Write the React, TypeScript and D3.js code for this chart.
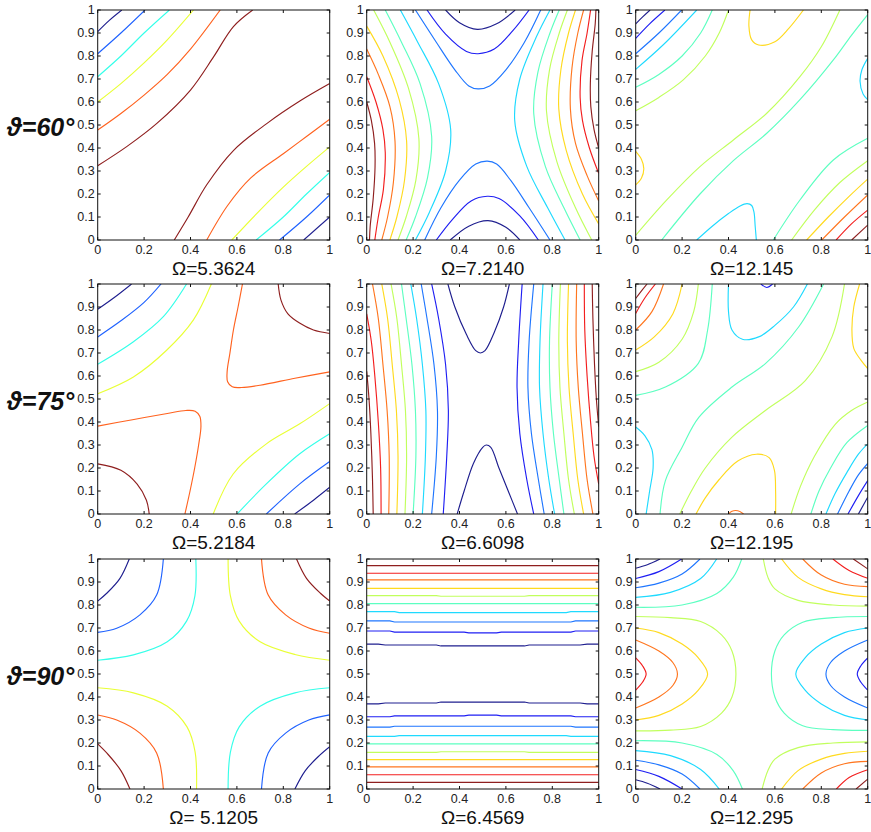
import React from "react";
import * as d3 from "d3";

type Pt = [number, number];
type Line = [number, Pt[]];

const rowLabels = ["ϑ=60°", "ϑ=75°", "ϑ=90°"];
const titles = ["Ω=5.3624", "Ω=7.2140", "Ω=12.145", "Ω=5.2184", "Ω=6.6098", "Ω=12.195", "Ω= 5.1205", "Ω=6.4569", "Ω=12.295"];
const levelCounts = [6, 10, 10, 6, 10, 10, 6, 10, 10];
const xTicks = [0, 0.2, 0.4, 0.6, 0.8, 1];
const yTicks = [0, 0.1, 0.2, 0.3, 0.4, 0.5, 0.6, 0.7, 0.8, 0.9, 1];

// contour lines: [level index, points in (x, y)]
const p1: Line[] = [
  [0, [[0, 0.906], [0.05, 0.955], [0.104, 1]]],
  [1, [[0, 0.81], [0.1, 0.9], [0.204, 1]]],
  [2, [[0, 0.71], [0.1, 0.8], [0.2, 0.9], [0.309, 1]]],
  [3, [[0, 0.6], [0.1, 0.68], [0.2, 0.77], [0.3, 0.87], [0.413, 1]]],
  [4, [[0, 0.478], [0.1, 0.55], [0.2, 0.63], [0.3, 0.72], [0.4, 0.83], [0.528, 1]]],
  [5, [[0, 0.323], [0.125, 0.406], [0.255, 0.507], [0.4, 0.652], [0.5, 0.797], [0.585, 0.928], [0.668, 1]]],
  [5, [[0.33, 0], [0.39, 0.1], [0.47, 0.24], [0.586, 0.39], [0.73, 0.507], [0.873, 0.605], [1, 0.68]]],
  [4, [[0.47, 0], [0.56, 0.15], [0.66, 0.27], [0.8, 0.375], [0.9, 0.45], [1, 0.525]]],
  [3, [[0.578, 0], [0.7, 0.13], [0.8, 0.23], [0.9, 0.32], [1, 0.405]]],
  [2, [[0.683, 0], [0.8, 0.1], [0.9, 0.2], [1, 0.294]]],
  [1, [[0.784, 0], [0.9, 0.1], [1, 0.196]]],
  [0, [[0.888, 0], [1, 0.1]]],
];

const p2: Line[] = [
  [0, [[0.34, 1], [0.4, 0.945], [0.477, 0.916], [0.56, 0.94], [0.64, 1]]],
  [1, [[0.26, 1], [0.34, 0.895], [0.43, 0.82], [0.48, 0.81], [0.55, 0.83], [0.63, 0.91], [0.7, 1]]],
  [2, [[0.21, 1], [0.3, 0.86], [0.38, 0.74], [0.44, 0.67], [0.48, 0.657], [0.53, 0.67], [0.6, 0.74], [0.68, 0.86], [0.75, 1]]],
  [0, [[0.36, 0], [0.44, 0.06], [0.523, 0.084], [0.6, 0.055], [0.66, 0]]],
  [1, [[0.3, 0], [0.37, 0.09], [0.45, 0.17], [0.52, 0.19], [0.57, 0.18], [0.66, 0.105], [0.74, 0]]],
  [2, [[0.25, 0], [0.32, 0.14], [0.4, 0.26], [0.47, 0.33], [0.52, 0.343], [0.56, 0.33], [0.62, 0.26], [0.7, 0.14], [0.79, 0]]],
  [9, [[0, 0.6], [0.02, 0.52], [0.034, 0.42], [0.036, 0.32], [0.028, 0.18], [0.015, 0.06], [0.012, 0]]],
  [9, [[1, 0.4], [0.98, 0.48], [0.966, 0.58], [0.964, 0.68], [0.972, 0.82], [0.985, 0.94], [0.988, 1]]],
  [8, [[0, 0.71], [0.04, 0.6], [0.07, 0.48], [0.08, 0.38], [0.072, 0.22], [0.05, 0.1], [0.035, 0]]],
  [8, [[1, 0.29], [0.96, 0.4], [0.93, 0.52], [0.92, 0.62], [0.928, 0.78], [0.95, 0.9], [0.965, 1]]],
  [7, [[0, 0.83], [0.05, 0.72], [0.1, 0.58], [0.122, 0.43], [0.115, 0.25], [0.09, 0.1], [0.065, 0]]],
  [7, [[1, 0.17], [0.95, 0.28], [0.9, 0.42], [0.878, 0.57], [0.885, 0.75], [0.91, 0.9], [0.935, 1]]],
  [6, [[0, 0.93], [0.07, 0.8], [0.14, 0.61], [0.172, 0.43], [0.163, 0.26], [0.13, 0.1], [0.1, 0]]],
  [6, [[1, 0.07], [0.93, 0.2], [0.86, 0.39], [0.828, 0.57], [0.837, 0.74], [0.87, 0.9], [0.9, 1]]],
  [5, [[0.03, 1], [0.1, 0.86], [0.18, 0.66], [0.225, 0.44], [0.212, 0.26], [0.17, 0.1], [0.135, 0]]],
  [5, [[0.97, 0], [0.9, 0.14], [0.82, 0.34], [0.775, 0.56], [0.788, 0.74], [0.83, 0.9], [0.865, 1]]],
  [4, [[0.08, 1], [0.15, 0.86], [0.23, 0.68], [0.28, 0.45], [0.262, 0.27], [0.21, 0.1], [0.17, 0]]],
  [4, [[0.92, 0], [0.85, 0.14], [0.77, 0.32], [0.72, 0.55], [0.738, 0.73], [0.79, 0.9], [0.83, 1]]],
  [3, [[0.145, 1], [0.22, 0.86], [0.31, 0.68], [0.362, 0.48], [0.34, 0.3], [0.27, 0.12], [0.21, 0]]],
  [3, [[0.855, 0], [0.78, 0.14], [0.69, 0.32], [0.638, 0.52], [0.66, 0.7], [0.73, 0.88], [0.79, 1]]],
];

const p3: Line[] = [
  [0, [[0, 0.94], [0.03, 0.97], [0.062, 1]]],
  [1, [[0, 0.877], [0.06, 0.94], [0.126, 1]]],
  [2, [[0, 0.81], [0.1, 0.9], [0.198, 1]]],
  [3, [[0, 0.742], [0.12, 0.85], [0.263, 1]]],
  [4, [[0, 0.664], [0.1, 0.72], [0.2, 0.8], [0.28, 0.9], [0.33, 1]]],
  [5, [[0, 0.562], [0.1, 0.62], [0.205, 0.696], [0.3, 0.8], [0.36, 0.9], [0.4, 1]]],
  [6, [[0.493, 1], [0.488, 0.93], [0.5, 0.87], [0.53, 0.848], [0.6, 0.862], [0.66, 0.92], [0.723, 1]]],
  [6, [[0, 0.385], [0.025, 0.35], [0.035, 0.31], [0.025, 0.27], [0, 0.24]]],
  [3, [[1, 0.79], [0.975, 0.74], [0.967, 0.69], [0.98, 0.635], [1, 0.61]]],
  [3, [[0.263, 0], [0.33, 0.06], [0.4, 0.115], [0.45, 0.148], [0.48, 0.158], [0.5, 0.15], [0.51, 0.12], [0.515, 0.06], [0.52, 0]]],
  [5, [[0, 0.02], [0.134, 0.174], [0.277, 0.319], [0.421, 0.435], [0.565, 0.551], [0.708, 0.71], [0.8, 0.84], [0.88, 1]]],
  [4, [[0.112, 0], [0.277, 0.2], [0.421, 0.345], [0.565, 0.464], [0.708, 0.61], [0.852, 0.783], [0.93, 0.89], [1, 0.98]]],
  [4, [[0.593, 0], [0.708, 0.174], [0.852, 0.348], [1, 0.442]]],
  [5, [[0.672, 0], [0.77, 0.13], [0.88, 0.25], [1, 0.345]]],
  [6, [[0.737, 0], [0.83, 0.1], [0.92, 0.19], [1, 0.265]]],
  [7, [[0.802, 0], [0.9, 0.1], [1, 0.196]]],
  [8, [[0.864, 0], [0.93, 0.07], [1, 0.13]]],
  [9, [[0.931, 0], [1, 0.065]]],
];

const p4: Line[] = [
  [0, [[0, 0.89], [0.07, 0.94], [0.146, 1]]],
  [1, [[0, 0.77], [0.1, 0.84], [0.2, 0.92], [0.273, 1]]],
  [2, [[0, 0.651], [0.154, 0.749], [0.283, 0.858], [0.383, 1]]],
  [3, [[0, 0.523], [0.154, 0.596], [0.297, 0.712], [0.412, 0.843], [0.49, 1]]],
  [4, [[0.624, 1], [0.605, 0.9], [0.585, 0.8], [0.57, 0.7], [0.558, 0.62], [0.56, 0.575], [0.58, 0.553], [0.62, 0.55], [0.7, 0.56], [0.85, 0.59], [1, 0.618]]],
  [5, [[0.778, 1], [0.79, 0.93], [0.82, 0.87], [0.87, 0.83], [0.93, 0.8], [1, 0.785]]],
  [4, [[0, 0.382], [0.15, 0.41], [0.3, 0.437], [0.38, 0.45], [0.42, 0.447], [0.44, 0.425], [0.445, 0.38], [0.435, 0.3], [0.418, 0.2], [0.398, 0.1], [0.376, 0]]],
  [5, [[0, 0.218], [0.1, 0.19], [0.17, 0.13], [0.21, 0.06], [0.222, 0]]],
  [3, [[0.498, 0], [0.584, 0.174], [0.727, 0.305], [0.871, 0.392], [1, 0.48]]],
  [2, [[0.601, 0], [0.727, 0.131], [0.871, 0.262], [1, 0.349]]],
  [1, [[0.727, 0], [0.871, 0.131], [1, 0.228]]],
  [0, [[0.849, 0], [0.93, 0.06], [1, 0.116]]],
];

const p5: Line[] = [
  [0, [[0.35, 1], [0.38, 0.9], [0.43, 0.78], [0.47, 0.71], [0.49, 0.7], [0.51, 0.71], [0.55, 0.79], [0.59, 0.9], [0.615, 1]]],
  [0, [[0.39, 0], [0.42, 0.1], [0.46, 0.22], [0.5, 0.29], [0.515, 0.3], [0.535, 0.29], [0.57, 0.2], [0.61, 0.1], [0.65, 0]]],
  [1, [[0.28, 1], [0.31, 0.85], [0.34, 0.65], [0.352, 0.45], [0.345, 0.25], [0.33, 0]]],
  [2, [[0.235, 1], [0.26, 0.85], [0.29, 0.65], [0.305, 0.45], [0.3, 0.25], [0.28, 0]]],
  [3, [[0.19, 1], [0.215, 0.85], [0.24, 0.65], [0.255, 0.45], [0.253, 0.25], [0.24, 0]]],
  [4, [[0.15, 1], [0.17, 0.85], [0.195, 0.65], [0.21, 0.45], [0.212, 0.25], [0.2, 0]]],
  [5, [[0.105, 1], [0.13, 0.85], [0.15, 0.65], [0.167, 0.45], [0.172, 0.25], [0.165, 0]]],
  [6, [[0.065, 1], [0.09, 0.85], [0.11, 0.65], [0.128, 0.45], [0.135, 0.25], [0.13, 0]]],
  [7, [[0.025, 1], [0.05, 0.85], [0.07, 0.65], [0.088, 0.45], [0.097, 0.25], [0.095, 0]]],
  [8, [[0, 0.87], [0.02, 0.75], [0.035, 0.6], [0.05, 0.4], [0.06, 0.2], [0.062, 0]]],
  [9, [[0, 0.62], [0.01, 0.5], [0.018, 0.35], [0.025, 0.15], [0.028, 0]]],
  [1, [[0.72, 0], [0.69, 0.15], [0.66, 0.35], [0.648, 0.55], [0.655, 0.75], [0.67, 1]]],
  [2, [[0.765, 0], [0.74, 0.15], [0.71, 0.35], [0.695, 0.55], [0.7, 0.75], [0.72, 1]]],
  [3, [[0.81, 0], [0.785, 0.15], [0.76, 0.35], [0.745, 0.55], [0.747, 0.75], [0.76, 1]]],
  [4, [[0.85, 0], [0.83, 0.15], [0.805, 0.35], [0.79, 0.55], [0.788, 0.75], [0.8, 1]]],
  [5, [[0.895, 0], [0.87, 0.15], [0.85, 0.35], [0.833, 0.55], [0.828, 0.75], [0.835, 1]]],
  [6, [[0.935, 0], [0.91, 0.15], [0.89, 0.35], [0.872, 0.55], [0.865, 0.75], [0.87, 1]]],
  [7, [[0.975, 0], [0.95, 0.15], [0.93, 0.35], [0.912, 0.55], [0.903, 0.75], [0.905, 1]]],
  [8, [[1, 0.13], [0.98, 0.25], [0.965, 0.4], [0.95, 0.6], [0.94, 0.8], [0.938, 1]]],
  [9, [[1, 0.38], [0.99, 0.5], [0.982, 0.65], [0.975, 0.85], [0.972, 1]]],
];

const p6: Line[] = [
  [9, [[0, 0.937], [0.025, 0.97], [0.049, 1]]],
  [8, [[0, 0.872], [0.04, 0.94], [0.085, 1]]],
  [7, [[0, 0.8], [0.07, 0.88], [0.12, 1]]],
  [6, [[0, 0.713], [0.08, 0.77], [0.16, 0.87], [0.2, 1]]],
  [5, [[0, 0.619], [0.1, 0.66], [0.2, 0.76], [0.25, 0.88], [0.27, 1]]],
  [4, [[0, 0.516], [0.128, 0.552], [0.27, 0.655], [0.31, 0.8], [0.33, 1]]],
  [3, [[0.4, 1], [0.4, 0.88], [0.415, 0.8], [0.46, 0.76], [0.53, 0.77], [0.6, 0.82], [0.68, 0.9], [0.74, 1]]],
  [1, [[0.54, 1], [0.565, 0.985], [0.59, 1]]],
  [6, [[0.965, 1], [0.94, 0.9], [0.932, 0.8], [0.94, 0.72], [0.97, 0.67], [1, 0.632]]],
  [4, [[0.105, 0], [0.128, 0.145], [0.2, 0.29], [0.272, 0.42], [0.415, 0.552], [0.559, 0.654], [0.703, 0.814], [0.81, 1]]],
  [5, [[0.19, 0], [0.24, 0.1], [0.3, 0.2], [0.415, 0.334], [0.559, 0.45], [0.731, 0.58], [0.846, 0.77], [0.9, 1]]],
  [3, [[0, 0.378], [0.04, 0.34], [0.07, 0.28], [0.075, 0.2], [0.06, 0.1], [0.045, 0]]],
  [6, [[0.26, 0], [0.3, 0.07], [0.36, 0.15], [0.44, 0.23], [0.52, 0.26], [0.575, 0.245], [0.598, 0.19], [0.603, 0.1], [0.603, 0]]],
  [7, [[0.4, 0], [0.415, 0.012], [0.44, 0.014], [0.465, 0]]],
  [5, [[0.67, 0], [0.71, 0.12], [0.77, 0.25], [0.86, 0.39], [0.93, 0.45], [1, 0.487]]],
  [4, [[0.755, 0], [0.79, 0.1], [0.84, 0.2], [0.91, 0.31], [1, 0.385]]],
  [3, [[0.82, 0], [0.86, 0.09], [0.91, 0.18], [0.96, 0.26], [1, 0.305]]],
  [2, [[0.87, 0], [0.92, 0.1], [0.96, 0.17], [1, 0.22]]],
  [1, [[0.915, 0], [0.96, 0.08], [1, 0.145]]],
  [0, [[0.96, 0], [1, 0.073]]],
];

const p7: Line[] = [
  [0, [[0.136, 1], [0.096, 0.916], [0.039, 0.851], [0, 0.817]]],
  [1, [[0.283, 1], [0.254, 0.843], [0.182, 0.757], [0.082, 0.699], [0, 0.681]]],
  [2, [[0.423, 1], [0.419, 0.84], [0.383, 0.73], [0.3, 0.64], [0.154, 0.583], [0, 0.56]]],
  [3, [[0.562, 1], [0.572, 0.84], [0.61, 0.73], [0.7, 0.64], [0.85, 0.585], [1, 0.56]]],
  [4, [[0.706, 1], [0.735, 0.843], [0.81, 0.757], [0.91, 0.7], [1, 0.677]]],
  [5, [[0.857, 1], [0.9, 0.916], [0.96, 0.851], [1, 0.817]]],
  [3, [[0.426, 0], [0.42, 0.16], [0.385, 0.27], [0.3, 0.36], [0.154, 0.418], [0, 0.44]]],
  [4, [[0.283, 0], [0.254, 0.157], [0.182, 0.243], [0.082, 0.3], [0, 0.322]]],
  [5, [[0.139, 0], [0.1, 0.08], [0.045, 0.15], [0, 0.196]]],
  [2, [[0.562, 0], [0.572, 0.16], [0.61, 0.27], [0.7, 0.36], [0.85, 0.418], [1, 0.44]]],
  [1, [[0.706, 0], [0.735, 0.157], [0.81, 0.243], [0.91, 0.3], [1, 0.322]]],
  [0, [[0.85, 0], [0.895, 0.08], [0.955, 0.145], [1, 0.184]]],
];

const p8: Line[] = [
  [9, [[0, 0.971], [1, 0.971]]],
  [8, [[0, 0.938], [1, 0.938]]],
  [7, [[0, 0.909], [1, 0.909]]],
  [6, [[0, 0.872], [1, 0.872]]],
  [5, [[0, 0.841], [0.3, 0.841], [0.32, 0.838], [0.68, 0.838], [0.7, 0.841], [1, 0.841]]],
  [4, [[0, 0.806], [1, 0.806]]],
  [3, [[0, 0.771], [0.12, 0.771], [0.14, 0.767], [0.86, 0.767], [0.88, 0.771], [1, 0.771]]],
  [2, [[0, 0.731], [0.1, 0.731], [0.12, 0.726], [0.88, 0.726], [0.9, 0.731], [1, 0.731]]],
  [1, [[0, 0.687], [0.1, 0.687], [0.12, 0.682], [0.42, 0.682], [0.44, 0.679], [0.56, 0.679], [0.58, 0.682], [0.88, 0.682], [0.9, 0.687], [1, 0.687]]],
  [0, [[0, 0.63], [0.05, 0.63], [0.08, 0.626], [0.3, 0.626], [0.32, 0.622], [0.68, 0.622], [0.7, 0.626], [0.92, 0.626], [0.95, 0.63], [1, 0.63]]],
  [0, [[0, 0.37], [0.05, 0.37], [0.08, 0.374], [0.3, 0.374], [0.32, 0.378], [0.68, 0.378], [0.7, 0.374], [0.92, 0.374], [0.95, 0.37], [1, 0.37]]],
  [1, [[0, 0.314], [0.1, 0.314], [0.12, 0.318], [0.42, 0.318], [0.44, 0.321], [0.56, 0.321], [0.58, 0.318], [0.88, 0.318], [0.9, 0.314], [1, 0.314]]],
  [2, [[0, 0.269], [0.1, 0.269], [0.12, 0.273], [0.88, 0.273], [0.9, 0.269], [1, 0.269]]],
  [3, [[0, 0.229], [0.12, 0.229], [0.14, 0.232], [0.86, 0.232], [0.88, 0.229], [1, 0.229]]],
  [4, [[0, 0.196], [1, 0.196]]],
  [5, [[0, 0.159], [0.3, 0.159], [0.32, 0.162], [0.68, 0.162], [0.7, 0.159], [1, 0.159]]],
  [6, [[0, 0.128], [1, 0.128]]],
  [7, [[0, 0.096], [1, 0.096]]],
  [8, [[0, 0.062], [1, 0.062]]],
  [9, [[0, 0.029], [1, 0.029]]],
];

const p9: Line[] = [
  [0, [[0, 0.96], [0.05, 0.975], [0.105, 1]]],
  [1, [[0, 0.915], [0.1, 0.945], [0.198, 1]]],
  [2, [[0, 0.875], [0.1, 0.895], [0.2, 0.935], [0.277, 1]]],
  [3, [[0, 0.833], [0.15, 0.855], [0.28, 0.915], [0.349, 1]]],
  [4, [[0, 0.79], [0.2, 0.8], [0.35, 0.85], [0.42, 0.92], [0.457, 1]]],
  [0, [[0, 0.04], [0.05, 0.025], [0.105, 0]]],
  [1, [[0, 0.085], [0.1, 0.055], [0.2, 0]]],
  [2, [[0, 0.125], [0.1, 0.105], [0.2, 0.065], [0.277, 0]]],
  [3, [[0, 0.167], [0.15, 0.145], [0.28, 0.085], [0.36, 0]]],
  [4, [[0, 0.21], [0.2, 0.2], [0.35, 0.15], [0.42, 0.08], [0.46, 0]]],
  [5, [[0.55, 1], [0.57, 0.92], [0.6, 0.87], [0.7, 0.82], [0.85, 0.8], [1, 0.795]]],
  [6, [[0.629, 1], [0.7, 0.92], [0.8, 0.87], [0.9, 0.845], [1, 0.836]]],
  [7, [[0.72, 1], [0.8, 0.93], [0.9, 0.89], [1, 0.88]]],
  [8, [[0.85, 1], [0.92, 0.95], [1, 0.916]]],
  [9, [[0.938, 1], [1, 0.957]]],
  [5, [[0.545, 0], [0.57, 0.08], [0.6, 0.13], [0.7, 0.18], [0.85, 0.2], [1, 0.205]]],
  [6, [[0.629, 0], [0.7, 0.08], [0.8, 0.13], [0.9, 0.155], [1, 0.164]]],
  [7, [[0.72, 0], [0.8, 0.07], [0.9, 0.11], [1, 0.12]]],
  [8, [[0.865, 0], [0.92, 0.05], [1, 0.084]]],
  [9, [[0.95, 0], [1, 0.043]]],
  [8, [[0, 0.57], [0.03, 0.535], [0.045, 0.5], [0.03, 0.465], [0, 0.43]]],
  [7, [[0, 0.648], [0.1, 0.6], [0.16, 0.55], [0.18, 0.5], [0.16, 0.45], [0.1, 0.4], [0, 0.352]]],
  [6, [[0, 0.7], [0.1, 0.68], [0.2, 0.63], [0.27, 0.57], [0.31, 0.5], [0.27, 0.43], [0.2, 0.37], [0.1, 0.32], [0, 0.3]]],
  [5, [[0, 0.75], [0.15, 0.745], [0.28, 0.728], [0.37, 0.67], [0.415, 0.6], [0.432, 0.5], [0.415, 0.4], [0.37, 0.33], [0.28, 0.272], [0.15, 0.256], [0, 0.253]]],
  [4, [[1, 0.75], [0.85, 0.745], [0.72, 0.725], [0.64, 0.67], [0.6, 0.6], [0.585, 0.5], [0.6, 0.4], [0.64, 0.33], [0.72, 0.275], [0.85, 0.258], [1, 0.255]]],
  [3, [[1, 0.7], [0.9, 0.68], [0.8, 0.63], [0.73, 0.57], [0.69, 0.5], [0.73, 0.43], [0.8, 0.37], [0.9, 0.32], [1, 0.3]]],
  [2, [[1, 0.648], [0.9, 0.6], [0.84, 0.55], [0.82, 0.5], [0.84, 0.45], [0.9, 0.4], [1, 0.352]]],
  [1, [[1, 0.57], [0.97, 0.535], [0.955, 0.5], [0.97, 0.465], [1, 0.43]]],
];

const panelLines: Line[][] = [p1, p2, p3, p4, p5, p6, p7, p8, p9];

// MATLAB "jet" colormap, softened slightly to match the printed figure
const jet = (t: number) => {
  const c = (v: number) => Math.max(0, Math.min(1, v));
  const r = c(1.5 - Math.abs(4 * t - 3));
  const g = c(1.5 - Math.abs(4 * t - 2));
  const b = c(1.5 - Math.abs(4 * t - 1));
  return d3.interpolateRgb(d3.rgb(r * 255, g * 255, b * 255), "#ffffff")(0.12);
};

const W = 232;
const H = 230;
const LEFTS = [97.7, 366.7, 635.7];
const TOPS = [10, 284, 559];
const FONT = "'Liberation Sans', Arial, Helvetica, sans-serif";

const fmt = (v: number) => (v === 0 ? "0" : v === 1 ? "1" : v.toFixed(1));

function Panel({ idx }: { idx: number }) {
  const row = Math.floor(idx / 3);
  const col = idx % 3;
  const left = LEFTS[col];
  const top = TOPS[row];
  const x = d3.scaleLinear().domain([0, 1]).range([left, left + W]);
  const y = d3.scaleLinear().domain([0, 1]).range([top + H, top]);
  const n = levelCounts[idx];
  const straight = idx === 7;
  const line = d3
    .line<Pt>()
    .x((d) => x(d[0]))
    .y((d) => y(d[1]))
    .curve(straight ? d3.curveLinear : d3.curveCatmullRom.alpha(0.5));
  const clipId = `clip${idx}`;
  return (
    <g>
      <clipPath id={clipId}>
        <rect x={left} y={top} width={W} height={H} />
      </clipPath>
      <g clipPath={`url(#${clipId})`}>
        {panelLines[idx].map(([lv, pts], i) => (
          <path key={i} d={line(pts) || ""} fill="none" stroke={jet(lv / (n - 1))} strokeWidth={1.15} />
        ))}
      </g>
      <rect x={left} y={top} width={W} height={H} fill="none" stroke="#111" strokeWidth={1} />
      {yTicks.map((t) => (
        <g key={"y" + t}>
          <line x1={left} x2={left + 3} y1={y(t)} y2={y(t)} stroke="#111" />
          <line x1={left + W - 3} x2={left + W} y1={y(t)} y2={y(t)} stroke="#111" />
          <text x={left - 3} y={y(t)} dy="0.35em" textAnchor="end" fontSize={12.5} fill="#222" fontFamily={FONT}>
            {fmt(t)}
          </text>
        </g>
      ))}
      {xTicks.map((t) => (
        <g key={"x" + t}>
          <line x1={x(t)} x2={x(t)} y1={top + H} y2={top + H - 3} stroke="#111" />
          <line x1={x(t)} x2={x(t)} y1={top} y2={top + 3} stroke="#111" />
          <text x={x(t)} y={top + H + 13.5} textAnchor="middle" fontSize={12.5} fill="#222" fontFamily={FONT}>
            {fmt(t)}
          </text>
        </g>
      ))}
      <text x={left + W / 2} y={top + H + 35} textAnchor="middle" fontSize={19} fill="#111" fontFamily={FONT}>
        {titles[idx]}
      </text>
    </g>
  );
}

export default function App() {
  return (
    <svg width={871} height={832} style={{ position: "absolute", left: 0, top: 0, background: "#fff" }}>
      <rect x={0} y={0} width={871} height={832} fill="#fff" />
      {d3.range(9).map((i) => (
        <Panel key={i} idx={i} />
      ))}
      {rowLabels.map((s, r) => (
        <text key={s} x={7} y={TOPS[r] + H / 2 + 11} fontSize={25} fontWeight="bold" fontStyle="italic" fill="#111" fontFamily={FONT}>
          {s}
        </text>
      ))}
    </svg>
  );
}
